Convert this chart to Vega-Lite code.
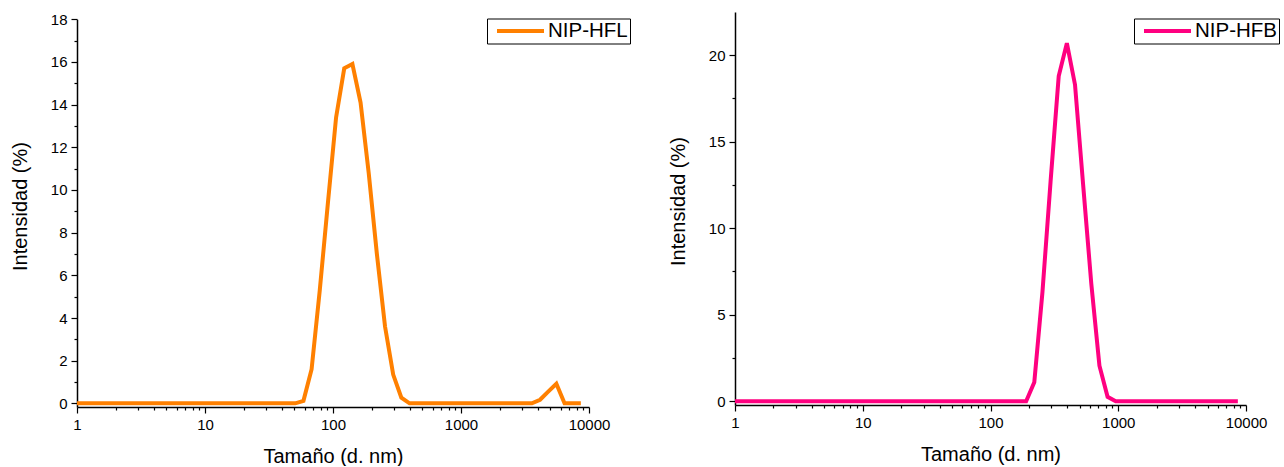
{
  "$schema": "https://vega.github.io/schema/vega-lite/v6.json",
  "background": "white",
  "padding": {"left": 10, "top": 12, "right": 0, "bottom": 0},
  "spacing": 37,
  "bounds": "full",
  "datasets": {
    "hfl": [
      {"size": 0.965, "intensity": 0, "sample": "NIP-HFL"},
      {"size": 1.117, "intensity": 0, "sample": "NIP-HFL"},
      {"size": 1.295, "intensity": 0, "sample": "NIP-HFL"},
      {"size": 1.499, "intensity": 0, "sample": "NIP-HFL"},
      {"size": 1.736, "intensity": 0, "sample": "NIP-HFL"},
      {"size": 2.010, "intensity": 0, "sample": "NIP-HFL"},
      {"size": 2.328, "intensity": 0, "sample": "NIP-HFL"},
      {"size": 2.696, "intensity": 0, "sample": "NIP-HFL"},
      {"size": 3.122, "intensity": 0, "sample": "NIP-HFL"},
      {"size": 3.615, "intensity": 0, "sample": "NIP-HFL"},
      {"size": 4.187, "intensity": 0, "sample": "NIP-HFL"},
      {"size": 4.849, "intensity": 0, "sample": "NIP-HFL"},
      {"size": 5.615, "intensity": 0, "sample": "NIP-HFL"},
      {"size": 6.503, "intensity": 0, "sample": "NIP-HFL"},
      {"size": 7.531, "intensity": 0, "sample": "NIP-HFL"},
      {"size": 8.721, "intensity": 0, "sample": "NIP-HFL"},
      {"size": 10.10, "intensity": 0, "sample": "NIP-HFL"},
      {"size": 11.70, "intensity": 0, "sample": "NIP-HFL"},
      {"size": 13.54, "intensity": 0, "sample": "NIP-HFL"},
      {"size": 15.69, "intensity": 0, "sample": "NIP-HFL"},
      {"size": 18.17, "intensity": 0, "sample": "NIP-HFL"},
      {"size": 21.04, "intensity": 0, "sample": "NIP-HFL"},
      {"size": 24.36, "intensity": 0, "sample": "NIP-HFL"},
      {"size": 28.21, "intensity": 0, "sample": "NIP-HFL"},
      {"size": 32.67, "intensity": 0, "sample": "NIP-HFL"},
      {"size": 37.84, "intensity": 0, "sample": "NIP-HFL"},
      {"size": 43.82, "intensity": 0, "sample": "NIP-HFL"},
      {"size": 50.75, "intensity": 0, "sample": "NIP-HFL"},
      {"size": 58.77, "intensity": 0.12, "sample": "NIP-HFL"},
      {"size": 68.06, "intensity": 1.6, "sample": "NIP-HFL"},
      {"size": 78.82, "intensity": 5.3, "sample": "NIP-HFL"},
      {"size": 91.28, "intensity": 9.4, "sample": "NIP-HFL"},
      {"size": 105.7, "intensity": 13.4, "sample": "NIP-HFL"},
      {"size": 122.4, "intensity": 15.7, "sample": "NIP-HFL"},
      {"size": 141.8, "intensity": 15.9, "sample": "NIP-HFL"},
      {"size": 164.2, "intensity": 14.1, "sample": "NIP-HFL"},
      {"size": 190.1, "intensity": 10.8, "sample": "NIP-HFL"},
      {"size": 220.2, "intensity": 7.0, "sample": "NIP-HFL"},
      {"size": 255.0, "intensity": 3.6, "sample": "NIP-HFL"},
      {"size": 295.3, "intensity": 1.35, "sample": "NIP-HFL"},
      {"size": 342.0, "intensity": 0.27, "sample": "NIP-HFL"},
      {"size": 396.1, "intensity": 0, "sample": "NIP-HFL"},
      {"size": 458.7, "intensity": 0, "sample": "NIP-HFL"},
      {"size": 531.2, "intensity": 0, "sample": "NIP-HFL"},
      {"size": 615.1, "intensity": 0, "sample": "NIP-HFL"},
      {"size": 712.4, "intensity": 0, "sample": "NIP-HFL"},
      {"size": 825.0, "intensity": 0, "sample": "NIP-HFL"},
      {"size": 955.4, "intensity": 0, "sample": "NIP-HFL"},
      {"size": 1106, "intensity": 0, "sample": "NIP-HFL"},
      {"size": 1281, "intensity": 0, "sample": "NIP-HFL"},
      {"size": 1484, "intensity": 0, "sample": "NIP-HFL"},
      {"size": 1718, "intensity": 0, "sample": "NIP-HFL"},
      {"size": 1990, "intensity": 0, "sample": "NIP-HFL"},
      {"size": 2305, "intensity": 0, "sample": "NIP-HFL"},
      {"size": 2669, "intensity": 0, "sample": "NIP-HFL"},
      {"size": 3091, "intensity": 0, "sample": "NIP-HFL"},
      {"size": 3580, "intensity": 0, "sample": "NIP-HFL"},
      {"size": 4145, "intensity": 0.17, "sample": "NIP-HFL"},
      {"size": 4801, "intensity": 0.55, "sample": "NIP-HFL"},
      {"size": 5560, "intensity": 0.92, "sample": "NIP-HFL"},
      {"size": 6439, "intensity": 0, "sample": "NIP-HFL"},
      {"size": 7456, "intensity": 0, "sample": "NIP-HFL"},
      {"size": 8635, "intensity": 0, "sample": "NIP-HFL"}
    ],
    "hfb": [
      {"size": 0.965, "intensity": 0, "sample": "NIP-HFB"},
      {"size": 1.117, "intensity": 0, "sample": "NIP-HFB"},
      {"size": 1.295, "intensity": 0, "sample": "NIP-HFB"},
      {"size": 1.499, "intensity": 0, "sample": "NIP-HFB"},
      {"size": 1.736, "intensity": 0, "sample": "NIP-HFB"},
      {"size": 2.010, "intensity": 0, "sample": "NIP-HFB"},
      {"size": 2.328, "intensity": 0, "sample": "NIP-HFB"},
      {"size": 2.696, "intensity": 0, "sample": "NIP-HFB"},
      {"size": 3.122, "intensity": 0, "sample": "NIP-HFB"},
      {"size": 3.615, "intensity": 0, "sample": "NIP-HFB"},
      {"size": 4.187, "intensity": 0, "sample": "NIP-HFB"},
      {"size": 4.849, "intensity": 0, "sample": "NIP-HFB"},
      {"size": 5.615, "intensity": 0, "sample": "NIP-HFB"},
      {"size": 6.503, "intensity": 0, "sample": "NIP-HFB"},
      {"size": 7.531, "intensity": 0, "sample": "NIP-HFB"},
      {"size": 8.721, "intensity": 0, "sample": "NIP-HFB"},
      {"size": 10.10, "intensity": 0, "sample": "NIP-HFB"},
      {"size": 11.70, "intensity": 0, "sample": "NIP-HFB"},
      {"size": 13.54, "intensity": 0, "sample": "NIP-HFB"},
      {"size": 15.69, "intensity": 0, "sample": "NIP-HFB"},
      {"size": 18.17, "intensity": 0, "sample": "NIP-HFB"},
      {"size": 21.04, "intensity": 0, "sample": "NIP-HFB"},
      {"size": 24.36, "intensity": 0, "sample": "NIP-HFB"},
      {"size": 28.21, "intensity": 0, "sample": "NIP-HFB"},
      {"size": 32.67, "intensity": 0, "sample": "NIP-HFB"},
      {"size": 37.84, "intensity": 0, "sample": "NIP-HFB"},
      {"size": 43.82, "intensity": 0, "sample": "NIP-HFB"},
      {"size": 50.75, "intensity": 0, "sample": "NIP-HFB"},
      {"size": 58.77, "intensity": 0, "sample": "NIP-HFB"},
      {"size": 68.06, "intensity": 0, "sample": "NIP-HFB"},
      {"size": 78.82, "intensity": 0, "sample": "NIP-HFB"},
      {"size": 91.28, "intensity": 0, "sample": "NIP-HFB"},
      {"size": 105.7, "intensity": 0, "sample": "NIP-HFB"},
      {"size": 122.4, "intensity": 0, "sample": "NIP-HFB"},
      {"size": 141.8, "intensity": 0, "sample": "NIP-HFB"},
      {"size": 164.2, "intensity": 0, "sample": "NIP-HFB"},
      {"size": 190.1, "intensity": 0, "sample": "NIP-HFB"},
      {"size": 220.2, "intensity": 1.1, "sample": "NIP-HFB"},
      {"size": 255.0, "intensity": 6.3, "sample": "NIP-HFB"},
      {"size": 295.3, "intensity": 12.7, "sample": "NIP-HFB"},
      {"size": 342.0, "intensity": 18.8, "sample": "NIP-HFB"},
      {"size": 396.1, "intensity": 20.7, "sample": "NIP-HFB"},
      {"size": 458.7, "intensity": 18.3, "sample": "NIP-HFB"},
      {"size": 531.2, "intensity": 12.5, "sample": "NIP-HFB"},
      {"size": 615.1, "intensity": 6.8, "sample": "NIP-HFB"},
      {"size": 712.4, "intensity": 2.05, "sample": "NIP-HFB"},
      {"size": 825.0, "intensity": 0.25, "sample": "NIP-HFB"},
      {"size": 955.4, "intensity": 0, "sample": "NIP-HFB"},
      {"size": 1106, "intensity": 0, "sample": "NIP-HFB"},
      {"size": 1281, "intensity": 0, "sample": "NIP-HFB"},
      {"size": 1484, "intensity": 0, "sample": "NIP-HFB"},
      {"size": 1718, "intensity": 0, "sample": "NIP-HFB"},
      {"size": 1990, "intensity": 0, "sample": "NIP-HFB"},
      {"size": 2305, "intensity": 0, "sample": "NIP-HFB"},
      {"size": 2669, "intensity": 0, "sample": "NIP-HFB"},
      {"size": 3091, "intensity": 0, "sample": "NIP-HFB"},
      {"size": 3580, "intensity": 0, "sample": "NIP-HFB"},
      {"size": 4145, "intensity": 0, "sample": "NIP-HFB"},
      {"size": 4801, "intensity": 0, "sample": "NIP-HFB"},
      {"size": 5560, "intensity": 0, "sample": "NIP-HFB"},
      {"size": 6439, "intensity": 0, "sample": "NIP-HFB"},
      {"size": 7456, "intensity": 0, "sample": "NIP-HFB"},
      {"size": 8635, "intensity": 0, "sample": "NIP-HFB"}
    ]
  },
  "resolve": {"scale": {"color": "independent", "x": "independent", "y": "independent"}, "legend": {"color": "independent"}},
  "hconcat": [
    {
      "width": 512,
      "height": 395,
      "data": {"name": "hfl"},
      "mark": {"type": "line", "clip": true, "strokeWidth": 4},
      "encoding": {
        "x": {
          "field": "size", "type": "quantitative",
          "scale": {"type": "log", "domain": [1, 10000], "nice": false},
          "axis": {
            "title": "Tamaño (d. nm)",
            "values": [1,2,3,4,5,6,7,8,9,10,20,30,40,50,60,70,80,90,100,200,300,400,500,600,700,800,900,1000,2000,3000,4000,5000,6000,7000,8000,9000,10000],
            "labelExpr": "indexof([1,10,100,1000,10000], datum.value) >= 0 ? format(datum.value, 'd') : ''",
            "tickSize": {"condition": {"test": "indexof([1,10,100,1000,10000], datum.value) >= 0", "value": 6}, "value": 3}
          }
        },
        "y": {
          "field": "intensity", "type": "quantitative",
          "scale": {"domain": [-0.17, 18], "range": [395, 7.25], "nice": false, "zero": false},
          "axis": {
            "title": "Intensidad (%)",
            "titleY": 194,
            "values": [0,1,2,3,4,5,6,7,8,9,10,11,12,13,14,15,16,17,18],
            "labelExpr": "datum.value % 2 == 0 ? datum.label : ''",
            "tickSize": {"condition": {"test": "datum.value % 2 == 0", "value": 6}, "value": 3}
          }
        },
        "color": {
          "field": "sample", "type": "nominal",
          "scale": {"domain": ["NIP-HFL"], "range": ["#FF8000"]},
          "legend": {"orient": "none", "legendX": 410, "legendY": 6.5}
        }
      }
    },
    {
      "width": 511,
      "height": 393,
      "data": {"name": "hfb"},
      "mark": {"type": "line", "clip": true, "strokeWidth": 4},
      "encoding": {
        "x": {
          "field": "size", "type": "quantitative",
          "scale": {"type": "log", "domain": [1, 10000], "nice": false},
          "axis": {
            "title": "Tamaño (d. nm)",
            "values": [1,2,3,4,5,6,7,8,9,10,20,30,40,50,60,70,80,90,100,200,300,400,500,600,700,800,900,1000,2000,3000,4000,5000,6000,7000,8000,9000,10000],
            "labelExpr": "indexof([1,10,100,1000,10000], datum.value) >= 0 ? format(datum.value, 'd') : ''",
            "tickSize": {"condition": {"test": "indexof([1,10,100,1000,10000], datum.value) >= 0", "value": 6}, "value": 3}
          }
        },
        "y": {
          "field": "intensity", "type": "quantitative",
          "scale": {"domain": [-0.22, 22.5], "nice": false, "zero": false},
          "axis": {
            "title": "Intensidad (%)",
            "titleY": 189,
            "values": [0,2.5,5,7.5,10,12.5,15,17.5,20],
            "labelExpr": "datum.value % 5 == 0 ? datum.label : ''",
            "tickSize": {"condition": {"test": "datum.value % 5 == 0", "value": 6}, "value": 3}
          }
        },
        "color": {
          "field": "sample", "type": "nominal",
          "scale": {"domain": ["NIP-HFB"], "range": ["#FF0080"]},
          "legend": {"orient": "none", "legendX": 399, "legendY": 6.5}
        }
      }
    }
  ],
  "config": {
    "font": "Liberation Sans",
    "view": {"stroke": null},
    "axis": {
      "grid": false,
      "domainColor": "black",
      "domainWidth": 1.5,
      "tickColor": "black",
      "tickWidth": 1.2,
      "labelColor": "black",
      "labelFont": "Liberation Sans",
      "labelFontSize": 15,
      "labelPadding": 4,
      "labelOverlap": false,
      "labelFlush": false,
      "titleColor": "black",
      "titleFont": "Liberation Sans",
      "titleFontSize": 20,
      "titleFontWeight": "normal"
    },
    "axisX": {"titlePadding": 14},
    "axisY": {"titlePadding": 20},
    "legend": {
      "title": null,
      "strokeColor": "black",
      "fillColor": "white",
      "padding": 2,
      "symbolType": "stroke",
      "symbolSize": 2209,
      "symbolStrokeWidth": 4,
      "symbolOffset": 6,
      "labelFont": "Liberation Sans",
      "labelFontSize": 20.5,
      "labelColor": "black",
      "labelOffset": 2,
      "clipHeight": 21
    }
  }
}
